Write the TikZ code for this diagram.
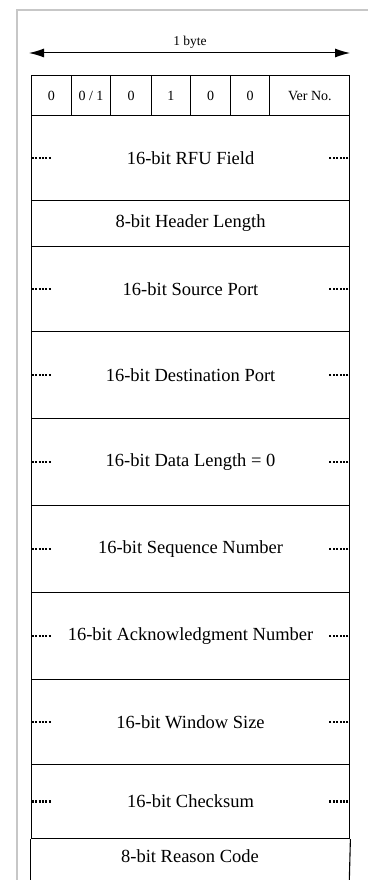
\documentclass[tikz,border=0pt]{standalone}
\usepackage{fontspec}
\setmainfont{Liberation Serif}
\usetikzlibrary{arrows.meta}
\begin{document}
\begin{tikzpicture}[x=1pt,y=-1pt,
  cell/.style={draw, line width=1.1pt, inner sep=0pt, anchor=north west, minimum width=318.6pt, font=\fontsize{18.5}{20}\selectfont},
  bitcell/.style={draw, line width=1.1pt, inner sep=0pt, anchor=north west, minimum height=40pt, font=\fontsize{14}{16}\selectfont},
  dots/.style={line width=2.2pt, dash pattern=on 2pt off 1.4pt},
  frame/.style={draw=black!22, line width=1.3pt}]
\useasboundingbox (0,0) rectangle (368,880);
\draw[frame] (17,880) -- (17,10) -- (368,10);
% 1 byte arrow
\node[font=\fontsize{13.5}{15}\selectfont] (byte) at (190,42) {1 byte};
\coordinate (al) at (29,53);
\coordinate (ar) at (350,53);
\draw[line width=1pt, {Latex[length=15pt,width=9pt]}-{Latex[length=15pt,width=9pt]}] (al) -- (ar);
% first row of bits
\node[bitcell, minimum width=40pt] (b1) at (30.7,75) {0};
\node[bitcell, minimum width=39.6pt] (b2) at (70.7,75) {0 / 1};
\node[bitcell, minimum width=40.4pt] (b3) at (110.3,75) {0};
\node[bitcell, minimum width=39.3pt] (b4) at (150.7,75) {1};
\node[bitcell, minimum width=40pt] (b5) at (190,75) {0};
\node[bitcell, minimum width=39.3pt] (b6) at (230,75) {0};
\node[bitcell, minimum width=80pt] (b7) at (269.3,75) {Ver No.};
% fields
\node[cell, minimum height=85pt] (rfu) at (30.7,115) {16-bit RFU Field};
\node[cell, minimum height=45.7pt] (hdr) at (30.7,200) {8-bit Header Length};
\node[cell, minimum height=85.3pt] (src) at (30.7,245.7) {16-bit Source Port};
\node[cell, minimum height=87pt] (dst) at (30.7,331) {16-bit Destination Port};
\node[cell, minimum height=87pt] (dlen) at (30.7,418) {16-bit Data Length = 0};
\node[cell, minimum height=87pt] (seq) at (30.7,505) {16-bit Sequence Number};
\node[cell, minimum height=87pt] (ack) at (30.7,592) {16-bit Acknowledgment Number};
\node[cell, minimum height=85pt] (win) at (30.7,679) {16-bit Window Size};
\node[cell, minimum height=74pt] (chk) at (30.7,764) {16-bit Checksum};
\node[font=\fontsize{18.5}{20}\selectfont, inner sep=0pt] (rsn) at (190,856) {8-bit Reason Code};
\coordinate (rsnbl) at (30.7,881);
\coordinate (rsnbr) at (349.3,881);
\draw[line width=1.1pt] (chk.south west) -- (rsnbl);
\draw[line width=1.1pt] (chk.south east) -- (rsnbr);
% dotted continuation marks
\foreach \n in {rfu,src,dst,dlen,seq,ack,win,chk}{
  \draw[dots] ([xshift=1pt]\n.west) -- ++(19,0);
  \draw[dots] ([xshift=-2pt]\n.east) -- ++(-20,0);
}
\end{tikzpicture}
\end{document}
